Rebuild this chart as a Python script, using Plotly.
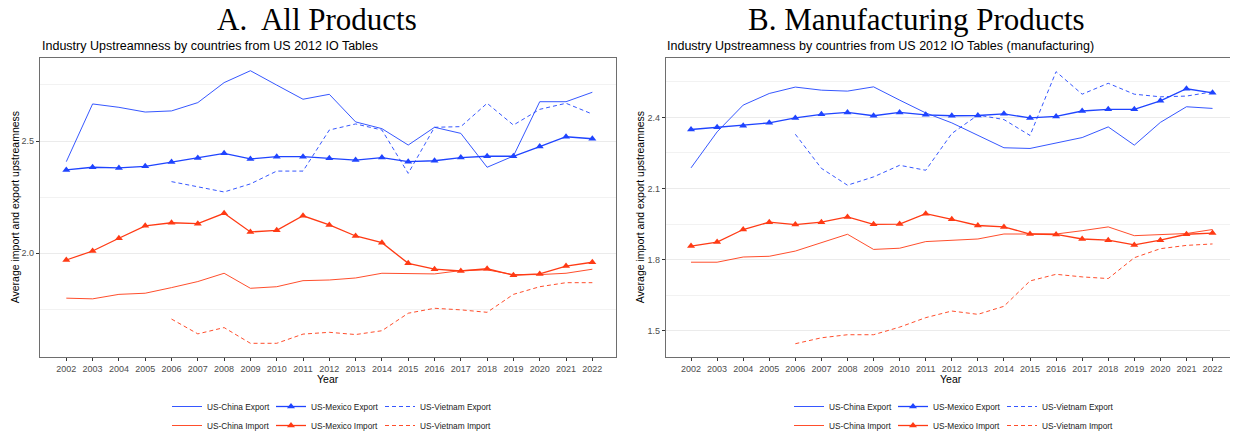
import plotly.graph_objects as go

# the page body keeps its default 8px margin, so the figure is laid out
# in screen pixels and shifted by that offset
OFF = 8
W, H = 1238 - OFF, 435 - OFF

years = list(range(2002, 2023))
years_vn = list(range(2006, 2023))

# Panel A: all products
a_china_exp = [2.408, 2.665, 2.650, 2.629, 2.634, 2.671, 2.760, 2.813, 2.749, 2.686, 2.708,
               2.585, 2.555, 2.482, 2.561, 2.534, 2.383, 2.433, 2.675, 2.675, 2.717]
a_mexico_exp = [2.371, 2.383, 2.380, 2.387, 2.406, 2.424, 2.445, 2.420, 2.430, 2.430, 2.423,
                2.415, 2.426, 2.408, 2.412, 2.426, 2.432, 2.432, 2.475, 2.519, 2.510]
a_vietnam_exp = [2.319, 2.297, 2.273, 2.309, 2.366, 2.366, 2.549, 2.576, 2.549, 2.356, 2.561,
                 2.564, 2.668, 2.571, 2.641, 2.668, 2.620]
a_china_imp = [1.800, 1.797, 1.817, 1.822, 1.847, 1.874, 1.911, 1.844, 1.851, 1.878, 1.881,
               1.890, 1.911, 1.908, 1.908, 1.923, 1.926, 1.905, 1.905, 1.911, 1.929]
a_mexico_imp = [1.970, 2.010, 2.067, 2.122, 2.136, 2.132, 2.178, 2.095, 2.102, 2.167, 2.126,
                2.077, 2.047, 1.955, 1.929, 1.921, 1.931, 1.902, 1.908, 1.943, 1.960]
a_vietnam_imp = [1.707, 1.641, 1.669, 1.599, 1.599, 1.640, 1.648, 1.638, 1.655, 1.733, 1.755,
                 1.748, 1.737, 1.817, 1.851, 1.869, 1.869]

# Panel B: manufacturing products
b_china_exp = [2.187, 2.339, 2.452, 2.501, 2.528, 2.515, 2.511, 2.529, 2.473, 2.419, 2.377,
               2.324, 2.272, 2.269, 2.293, 2.315, 2.360, 2.283, 2.379, 2.445, 2.438]
b_mexico_exp = [2.349, 2.358, 2.365, 2.377, 2.398, 2.413, 2.421, 2.407, 2.421, 2.411, 2.407,
                2.408, 2.415, 2.398, 2.404, 2.427, 2.434, 2.434, 2.470, 2.521, 2.504]
b_vietnam_exp = [2.329, 2.185, 2.114, 2.149, 2.198, 2.177, 2.332, 2.410, 2.391, 2.324, 2.593,
                 2.498, 2.544, 2.498, 2.487, 2.490, 2.508]
b_china_imp = [1.789, 1.789, 1.811, 1.814, 1.836, 1.870, 1.907, 1.843, 1.848, 1.876, 1.882,
               1.887, 1.908, 1.908, 1.908, 1.922, 1.938, 1.901, 1.904, 1.910, 1.927]
b_mexico_imp = [1.857, 1.874, 1.927, 1.958, 1.948, 1.958, 1.980, 1.949, 1.950, 1.994, 1.970,
                1.944, 1.938, 1.908, 1.906, 1.887, 1.882, 1.862, 1.882, 1.907, 1.912]
b_vietnam_imp = [1.445, 1.470, 1.483, 1.483, 1.515, 1.555, 1.583, 1.569, 1.603, 1.710, 1.738,
                 1.727, 1.720, 1.808, 1.846, 1.860, 1.866]

BLUE = "#1f44ff"
RED = "#ff3a14"


def px_x(v):
    return (v - OFF) / W


def px_y(v):
    return 1 - (v - OFF) / H


fig = go.Figure()


def add_panel(xa, ya, china_exp, mexico_exp, vn_exp, china_imp, mexico_imp, vn_imp, legs):
    series = [
        ("US-China Export", years, china_exp, BLUE, "solid", False, legs[0]),
        ("US-China Import", years, china_imp, RED, "solid", False, legs[0]),
        ("US-Mexico Export", years, mexico_exp, BLUE, "solid", True, legs[1]),
        ("US-Mexico Import", years, mexico_imp, RED, "solid", True, legs[1]),
        ("US-Vietnam Export", years_vn, vn_exp, BLUE, "4px,3px", False, legs[2]),
        ("US-Vietnam Import", years_vn, vn_imp, RED, "4px,3px", False, legs[2]),
    ]
    for name, xs, ys, col, dash, mk, leg in series:
        fig.add_trace(go.Scatter(
            x=xs, y=ys, name=name, xaxis=xa, yaxis=ya,
            mode="lines+markers" if mk else "lines",
            line=dict(color=col, width=1.3 if mk else 0.9, dash=dash),
            marker=dict(symbol="triangle-up", size=7, color=col),
            legend=leg, showlegend=True,
        ))


add_panel("x", "y", a_china_exp, a_mexico_exp, a_vietnam_exp,
          a_china_imp, a_mexico_imp, a_vietnam_imp, ["legend", "legend2", "legend3"])
add_panel("x2", "y2", b_china_exp, b_mexico_exp, b_vietnam_exp,
          b_china_imp, b_mexico_imp, b_vietnam_imp, ["legend4", "legend5", "legend6"])

font_sans = "Liberation Sans, Arial, sans-serif"
font_serif = "Liberation Serif, Times New Roman, serif"

xcommon = dict(
    tickmode="array", tickvals=years, ticktext=[str(y) for y in years],
    showgrid=False, zeroline=False, showline=True, mirror=True,
    linecolor="#6e6e6e", linewidth=1.3, automargin=False,
    ticks="outside", ticklen=3, tickcolor="#333333",
    tickfont=dict(family=font_sans, size=9, color="#4d4d4d"),
)
ycommon = dict(
    showgrid=True, gridcolor="#ebebeb", gridwidth=1, zeroline=False,
    showline=True, mirror=True, linecolor="#6e6e6e", linewidth=1.3, automargin=False,
    ticks="outside", ticklen=3, tickcolor="#333333",
    tickfont=dict(family=font_sans, size=9, color="#4d4d4d"),
)

top, bottom = 57.7, 357
legend_common = dict(
    orientation="v", bgcolor="rgba(0,0,0,0)", borderwidth=0,
    font=dict(family=font_sans, size=8.3, color="#1a1a1a"),
    xanchor="left", yanchor="top", y=px_y(392), itemwidth=30,
    tracegroupgap=0,
)

fig.update_layout(
    width=W, height=H,
    margin=dict(l=0, r=0, t=0, b=0, autoexpand=False),
    paper_bgcolor="white", plot_bgcolor="white",
    xaxis=dict(domain=[px_x(40), px_x(616)], range=[2001.0, 2022.9], anchor="y", **xcommon),
    yaxis=dict(domain=[px_y(bottom), px_y(top)], range=[1.538, 2.871], anchor="x",
               tickvals=[2.0, 2.5], ticktext=["2.0", "2.5"],
               minor=dict(tickvals=[1.75, 2.25, 2.75], showgrid=True, gridcolor="#f2f2f2", ticks=""),
               **ycommon),
    xaxis2=dict(domain=[px_x(666), px_x(1236)], range=[2001.04, 2022.9], anchor="y2", **xcommon),
    yaxis2=dict(domain=[px_y(bottom), px_y(top)], range=[1.389, 2.652], anchor="x2",
                tickvals=[1.5, 1.8, 2.1, 2.4], ticktext=["1.5", "1.8", "2.1", "2.4"],
                minor=dict(tickvals=[1.65, 1.95, 2.25, 2.55], showgrid=True, gridcolor="#f2f2f2", ticks=""),
                **ycommon),
    legend=dict(x=px_x(167), **legend_common),
    legend2=dict(x=px_x(271), **legend_common),
    legend3=dict(x=px_x(380), **legend_common),
    legend4=dict(x=px_x(789), **legend_common),
    legend5=dict(x=px_x(893), **legend_common),
    legend6=dict(x=px_x(1002), **legend_common),
)

annotations = [
    dict(text="A.\u00a0 All Products", x=px_x(316.5), y=px_y(19.5), font=dict(family=font_serif, size=31, color="black")),
    dict(text="B. Manufacturing Products", x=px_x(916.5), y=px_y(19.5), font=dict(family=font_serif, size=31, color="black")),
    dict(text="Industry Upstreamness by countries from US 2012 IO Tables", x=px_x(40), y=px_y(46),
         xanchor="left", font=dict(family=font_sans, size=12.5, color="black")),
    dict(text="Industry Upstreamness by countries from US 2012 IO Tables (manufacturing)", x=px_x(665), y=px_y(46),
         xanchor="left", font=dict(family=font_sans, size=12.5, color="black")),
    dict(text="Average import and export upstreamness", x=px_x(15), y=px_y((top + bottom) / 2),
         textangle=-90, font=dict(family=font_sans, size=10.5, color="black")),
    dict(text="Average import and export upstreamness", x=px_x(640), y=px_y((top + bottom) / 2),
         textangle=-90, font=dict(family=font_sans, size=10.5, color="black")),
    dict(text="Year", x=px_x(328), y=px_y(378.5), font=dict(family=font_sans, size=10.5, color="black")),
    dict(text="Year", x=px_x(951), y=px_y(378.5), font=dict(family=font_sans, size=10.5, color="black")),
]
for a in annotations:
    a.setdefault("xanchor", "center")
    a.update(xref="paper", yref="paper", yanchor="middle", showarrow=False)
fig.update_layout(annotations=annotations)

fig.write_html("out.html")
